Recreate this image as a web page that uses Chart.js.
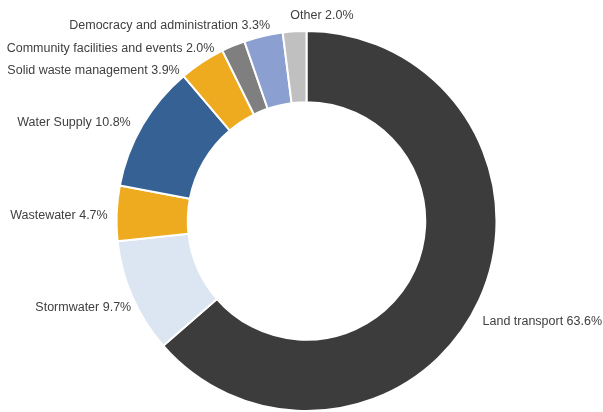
<!DOCTYPE html>
<html>
<head>
<meta charset="utf-8">
<script src="https://cdn.jsdelivr.net/npm/chart.js"></script>
<style>
  html, body { margin: 0; padding: 0; background: #fff; }
  #wrap { width: 603px; height: 412px; position: relative; }
</style>
</head>
<body>
<div id="wrap"><canvas id="donut"></canvas></div>
<script>
// Share of spend by activity (%), clockwise from 12 o'clock
const categories = [
    'Land transport',
    'Stormwater',
    'Wastewater',
    'Water Supply',
    'Solid waste management',
    'Community facilities and events',
    'Democracy and administration',
    'Other'
];
const shares = [63.6, 9.7, 4.7, 10.8, 3.9, 2.0, 3.3, 2.0];
const sliceColors = ['#3c3c3c', '#dce6f2', '#eeab1f', '#356195', '#eeab1f', '#7f7f7f', '#8b9fd0', '#c0c0c0'];

// Label placement: nudge from the radial anchor, and text alignment
const labelNudge = [
    [-6, 18, 'left'],
    [8, 7, 'right'],
    [1, 3, 'right'],
    [-3, 2, 'right'],
    [-17, 17, 'right'],
    [-15, 12, 'right'],
    [9, -1, 'right'],
    [28, -6, 'center']
];

const sliceLabels = {
    id: 'sliceLabels',
    afterDatasetsDraw(chart) {
        const { ctx } = chart;
        const meta = chart.getDatasetMeta(0);
        ctx.save();
        ctx.font = '12.5px "Liberation Sans", Arial, sans-serif';
        ctx.fillStyle = '#404040';
        ctx.textBaseline = 'middle';
        meta.data.forEach((arc, i) => {
            const { x, y, startAngle, endAngle, outerRadius } = arc.getProps(['x', 'y', 'startAngle', 'endAngle', 'outerRadius'], true);
            const mid = (startAngle + endAngle) / 2;
            const r = outerRadius + 10;
            const [dx, dy, align] = labelNudge[i];
            ctx.textAlign = align;
            ctx.fillText(`${categories[i]} ${shares[i].toFixed(1)}%`,
                x + Math.cos(mid) * r + dx, y + Math.sin(mid) * r + dy);
        });
        ctx.restore();
    }
};

new Chart(document.getElementById('donut'), {
    type: 'doughnut',
    data: {
        labels: categories,
        datasets: [{
            data: shares,
            backgroundColor: sliceColors,
            borderColor: '#ffffff',
            borderWidth: 2
        }]
    },
    options: {
        responsive: true,
        maintainAspectRatio: false,
        animation: false,
        cutout: '62.5%',
        layout: { padding: { top: 30, bottom: 0, left: 10, right: 0 } },
        plugins: {
            legend: { display: false },
            tooltip: { enabled: false }
        }
    },
    plugins: [sliceLabels]
});
</script>
</body>
</html>
